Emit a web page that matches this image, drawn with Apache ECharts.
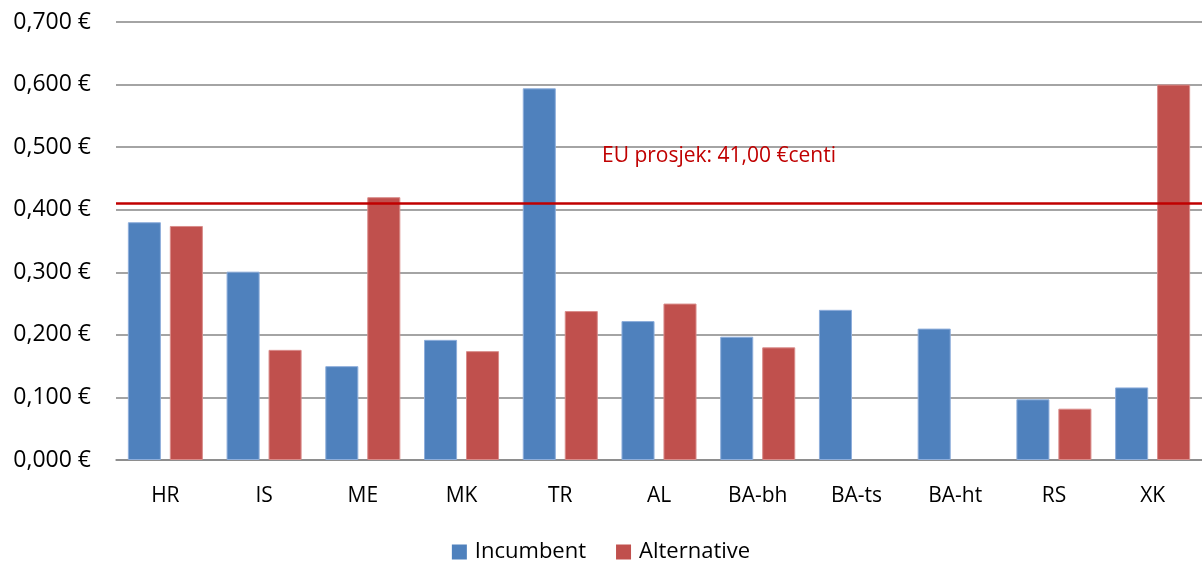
<!DOCTYPE html>
<html>
<head>
<meta charset="utf-8">
<script src="https://cdn.jsdelivr.net/npm/echarts@6/dist/echarts.min.js"></script>
<style>
html,body{margin:0;padding:0;background:#fff;}
#chart{width:1202px;height:561px;}
</style>
</head>
<body>
<div id="chart"></div>
<script>
const categories = ['HR','IS','ME','MK','TR','AL','BA-bh','BA-ts','BA-ht','RS','XK'];
const incumbent = [0.380, 0.301, 0.150, 0.192, 0.594, 0.222, 0.197, 0.240, 0.210, 0.097, 0.116];
const alternative = [0.374, 0.176, 0.420, 0.174, 0.238, 0.250, 0.180, null, null, 0.082, 0.600];
const euAverage = 0.41;
const euLabel = 'EU prosjek: 41,00 €centi';
const yTickLabels = ['0,000 €','0,100 €','0,200 €','0,300 €','0,400 €','0,500 €','0,600 €','0,700 €'];

const FONT = 'Open Sans';
const chart = echarts.init(document.getElementById('chart'), null, {renderer:'canvas'});
chart.setOption({
  animation:false,
  backgroundColor:'#fff',
  textStyle:{fontFamily:FONT},
  grid:{left:116, right:0, top:22, bottom:101, containLabel:false},
  legend:{
    top:536, left:'center',
    itemWidth:15, itemHeight:15, itemGap:30,
    icon:'rect',
    itemStyle:{borderWidth:0},
    textStyle:{fontFamily:FONT, fontSize:22, color:'#000', padding:[0,0,0,3]},
    data:['Incumbent','Alternative']
  },
  xAxis:{
    type:'category',
    data:categories,
    axisLine:{show:true, lineStyle:{color:'#868686', width:1.5}},
    axisTick:{show:false},
    axisLabel:{fontFamily:FONT, fontSize:21, color:'#000', margin:26}
  },
  yAxis:{
    type:'value',
    min:0, max:0.7, interval:0.1,
    axisLine:{show:false},
    axisTick:{show:false},
    axisLabel:{
      fontFamily:FONT, fontSize:23, color:'#000', margin:25,
      formatter:function(v){ return yTickLabels[Math.round(v*10)]; }
    },
    splitLine:{lineStyle:{color:'#868686', width:1.5}}
  },
  series:[
    {
      name:'Incumbent', type:'bar', data:incumbent,
      barCategoryGap:'24%', barGap:'27%',
      itemStyle:{color:'#4F81BD', borderColor:'#8eaedb', borderWidth:1},
      markLine:{
        silent:true, symbol:'none',
        lineStyle:{color:'#C00000', width:2.5, type:'solid'},
        label:{
          show:true, position:'insideMiddleTop', distance:37,
          formatter:euLabel, color:'#C00000', fontFamily:FONT, fontSize:21,
          padding:[0,0,0,120]
        },
        data:[{yAxis:euAverage}]
      }
    },
    {
      name:'Alternative', type:'bar', data:alternative,
      barCategoryGap:'24%', barGap:'27%',
      itemStyle:{color:'#C0504D', borderColor:'#d98c8a', borderWidth:1}
    }
  ]
});
</script>
</body>
</html>
